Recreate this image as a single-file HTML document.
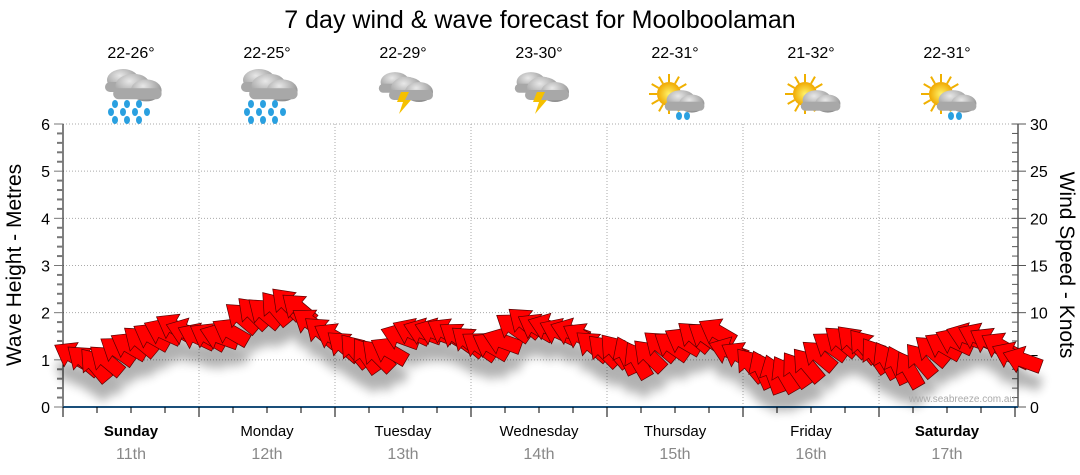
<!DOCTYPE html>
<html><head><meta charset="utf-8"><style>
html,body{margin:0;padding:0;background:#fff;}
svg{display:block;font-family:"Liberation Sans",sans-serif;}
</style></head><body>
<svg id="c" width="1080" height="475" viewBox="0 0 1080 475">
<defs>
<filter id="sh" x="-50%" y="-50%" width="200%" height="200%"><feGaussianBlur stdDeviation="5"/></filter>
<radialGradient id="cg" cx="0.4" cy="0.3" r="0.8"><stop offset="0" stop-color="#e8e8e8"/><stop offset="1" stop-color="#808080"/></radialGradient>
<radialGradient id="sg" cx="0.5" cy="0.5" r="0.5"><stop offset="0" stop-color="#fff36a"/><stop offset="1" stop-color="#f0a800"/></radialGradient>
</defs>
<text x="540" y="28" text-anchor="middle" font-size="25" fill="#000">7 day wind &amp; wave forecast for Moolboolaman</text>
<g id="grid"></g>
<g id="axes"></g>
<g id="icons"></g>
<g id="shadow" filter="url(#sh)" opacity="0.3"></g>
<g id="arrows"></g>
<text x="1015" y="402" text-anchor="end" font-size="10" fill="#aaa">www.seabreeze.com.au</text>
<text transform="translate(21,265) rotate(-90)" text-anchor="middle" font-size="21" fill="#000">Wave Height - Metres</text>
<text transform="translate(1060,265) rotate(90)" text-anchor="middle" font-size="21" fill="#000">Wind Speed - Knots</text>
</svg>
<script>
const days = ["Sunday","Monday","Tuesday","Wednesday","Thursday","Friday","Saturday"];
const dates = ["11th","12th","13th","14th","15th","16th","17th"];
const temps = ["22-26°","22-25°","22-29°","23-30°","22-31°","21-32°","22-31°"];
const icons = ["rain","rain","storm","storm","sunshower","suncloud","sunshower"];
const boldDays = [true,false,false,false,false,false,true];
const windKnots = [
  5.5,5,4.5,5,6,6.5,7,7.5,8,8.5,8,7.5,
  7.5,7.5,8,9.5,10,10,10.5,11,10.5,9,8,7.5,
  6.5,6,5.5,5.5,6,7.5,8,8,8,8,7.5,7,
  6.5,6.5,7,8.5,9,8.5,8.5,8,8,7.5,6.5,6,
  6,5.5,5,5.5,6.5,6.5,7,7.5,7.5,8,6,5.5,
  4.5,4,3.5,3.5,4,4.5,5.5,6.5,7,7,6.5,5.5,
  5,4.5,4,5,6,6.5,7,7.5,7.5,7,6.5,5.5,5];
const windDir = [
  -150,-140,-130,-140,-145,-150,-140,-150,-155,-150,-160,-155,
  -150,-160,-150,-140,-135,-140,-130,-135,-140,-145,-140,-150,
  -140,-130,-125,-135,-150,-160,-155,-160,-160,-150,-145,-140,
  -145,-150,-160,-145,-140,-150,-160,-155,-160,-150,-140,-135,
  -130,-115,-120,-135,-140,-145,-150,-140,-145,-150,-160,-150,
  -130,-115,-110,-120,-125,-130,-140,-145,-140,-135,-130,-125,
  -120,-115,-120,-130,-140,-150,-155,-160,-155,-150,-150,-155,-160];
const leftTicks = [0,1,2,3,4,5,6];
const rightTicks = [0,5,10,15,20,25,30];

const NS="http://www.w3.org/2000/svg";
const X0=63, DAYW=136, Y0=407, PXM=(407-124)/6;
const yM = m => Y0 - m*PXM;
const yK = k => Y0 - (k/5)*PXM;
const xT = t => X0 + t*DAYW;
function mk(tag, attrs, parent){const e=document.createElementNS(NS,tag);for(const k in attrs)e.setAttribute(k,attrs[k]);parent.appendChild(e);return e;}
const grid=document.getElementById('grid'), axes=document.getElementById('axes');
leftTicks.forEach(v=>{ if(v>0){const l=mk('line',{x1:X0,x2:1017,y1:yM(v),y2:yM(v),stroke:'#aaa','stroke-dasharray':'1,2'},grid);

}});
for(let d=1;d<7;d++){const l=mk('line',{x1:xT(d),x2:xT(d),y1:124,y2:407,stroke:'#aaa','stroke-dasharray':'1,2'},grid);

}
mk('line',{x1:X0,x2:X0,y1:124,y2:407,stroke:'#000'},axes);
for(let v=0;v<=30;v++){const y=yM(v/5);mk('line',{x1:v%5==0?54:57,x2:X0,y1:y,y2:y,stroke:'#777','stroke-width':v%5==0?1:2},axes);}
leftTicks.forEach(v=>{const t=mk('text',{x:50,y:yM(v)+6,'text-anchor':'end','font-size':16,fill:'#000'},axes);t.textContent=v;

});
mk('line',{x1:1018,x2:1018,y1:124,y2:407,stroke:'#000'},axes);
for(let v=0;v<=30;v++){const y=yK(v);mk('line',{x1:1012,x2:v%5==0?1026:1018,y1:y,y2:y,stroke:'#555'},axes);}
rightTicks.forEach(v=>{const t=mk('text',{x:1030,y:yK(v)+6,'font-size':16,fill:'#000'},axes);t.textContent=v;

});
mk('line',{x1:X0,x2:1018,y1:407,y2:407,stroke:'#1a4f7a','stroke-width':2},axes);
for(let i=0;i<=28;i++){const x=xT(i/4);mk('line',{x1:x,x2:x,y1:407,y2:i%4==0?417:413,stroke:'#000'},axes);}
days.forEach((d,i)=>{const cx=xT(i+0.5);
const t=mk('text',{x:cx,y:436,'text-anchor':'middle','font-size':15,fill:'#000','font-weight':boldDays[i]?'bold':'normal'},axes);t.textContent=d;


const t2=mk('text',{x:cx,y:459,'text-anchor':'middle','font-size':16,fill:'#888'},axes);t2.textContent=dates[i];


const t3=mk('text',{x:cx,y:58,'text-anchor':'middle','font-size':16,fill:'#000'},axes);t3.textContent=temps[i];


});
const ig=document.getElementById('icons');
function cloud(g,x,y,s){mk('ellipse',{cx:x,cy:y,rx:16*s,ry:11*s,fill:'url(#cg)'},g);mk('ellipse',{cx:x+12*s,cy:y+4*s,rx:14*s,ry:10*s,fill:'url(#cg)'},g);mk('rect',{x:x-18*s,y:y+2*s,width:44*s,height:10*s,rx:5*s,fill:'#a8a8a8'},g);}
function drop(g,x,y){mk('ellipse',{cx:x,cy:y,rx:3,ry:4,fill:'#2aa0e0'},g);}
function sun(g,x,y){for(let a=0;a<360;a+=30){const r=a*Math.PI/180;mk('line',{x1:x+Math.cos(r)*12,y1:y+Math.sin(r)*12,x2:x+Math.cos(r)*20,y2:y+Math.sin(r)*20,stroke:'#f0b000','stroke-width':2},g);}mk('circle',{cx:x,cy:y,r:12,fill:'url(#sg)'},g);}
icons.forEach((k,i)=>{const cx=xT(i+0.5);const g=mk('g',{},ig);


if(k=='rain'){cloud(g,cx-8,80,1);cloud(g,cx+2,86,1.1);[[-20,104],[-8,104],[4,104],[-24,112],[-12,112],[0,112],[12,112],[-20,120],[-8,120],[4,120]].forEach(p=>drop(g,cx+p[0]+4,p[1]));}
else if(k=='storm'){cloud(g,cx-8,82,0.9);cloud(g,cx+4,88,1);mk('polygon',{points:`${cx-2},92 ${cx+6},92 ${cx+2},100 ${cx+8},100 ${cx-4},114 ${cx},102 ${cx-6},102`,fill:'#f5c000'},g);}
else{sun(g,cx-6,94);cloud(g,cx+6,100,0.9);if(k=='sunshower'){drop(g,cx+4,116);drop(g,cx+12,116);}}
});
const ag=document.getElementById('arrows'), sg=document.getElementById('shadow');
const n=windKnots.length, xs=72, xe=1022, step=(xe-xs)/(n-1);
const pts="20,0 1,-14 1,-7 -20,-7 -20,7 1,7 1,14";
windKnots.forEach((k,i)=>{const x=xs+i*step, y=yK(k);const a=windDir[i];
const s=mk('polygon',{points:pts,fill:'#000',transform:`translate(${x},${y+18}) rotate(${a})`},sg);


const p=mk('polygon',{points:pts,fill:'#ff0000',stroke:'#5a0000','stroke-width':0.7,transform:`translate(${x},${y}) rotate(${a})`},ag);


});
</script>
</body></html>
